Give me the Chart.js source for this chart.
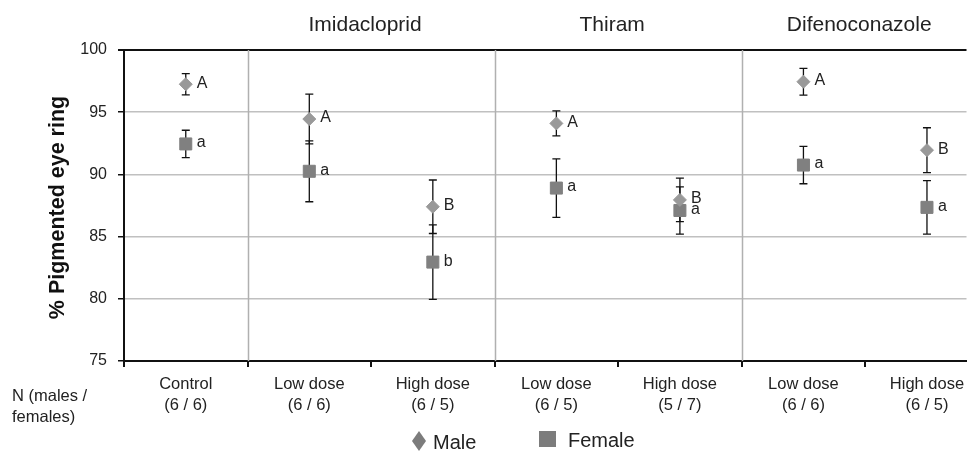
<!DOCTYPE html>
<html>
<head>
<meta charset="utf-8">
<script src="https://cdn.jsdelivr.net/npm/chart.js@4.4.0/dist/chart.umd.min.js"></script>
<style>
  body { margin: 0; background: #fff; }
  #chart { display: block; }
</style>
</head>
<body>
<canvas id="chart" width="976" height="452"></canvas>
<script>
// Categories and sample sizes
const categories = ['Control', 'Low dose', 'High dose', 'Low dose', 'High dose', 'Low dose', 'High dose'];
const sampleSizes = ['(6 / 6)', '(6 / 6)', '(6 / 5)', '(6 / 5)', '(5 / 7)', '(6 / 6)', '(6 / 5)'];

// Treatment groups (span in category units)
const groupNames = ['Imidacloprid', 'Thiram', 'Difenoconazole'];
const groupStart = [1, 3, 5];
const groupEnd = [3, 5, 7];

// Means, error bars and significance letters
const maleMean = [97.25, 94.45, 87.4, 94.1, 87.95, 97.45, 91.95];
const maleErr = [0.85, 2.0, 2.15, 1.0, 1.75, 1.07, 1.8];
const maleLetters = ['A', 'A', 'B', 'A', 'B', 'A', 'B'];

const femaleMean = [92.45, 90.25, 82.95, 88.9, 87.1, 90.75, 87.35];
const femaleErr = [1.1, 2.45, 3.0, 2.35, 1.9, 1.5, 2.15];
const femaleLetters = ['a', 'a', 'b', 'a', 'a', 'a', 'a'];

const yTicks = [75, 80, 85, 90, 95, 100];

const FONT = '"Liberation Sans", Arial, sans-serif';

function toPoints(means) {
  return means.map((v, i) => ({ x: i + 0.5, y: v }));
}

// draws error bars, letters, separators, labels and the legend
const decorPlugin = {
  id: 'decor',
  beforeDatasetsDraw(chart) {
    const ctx = chart.ctx;
    const xs = chart.scales.x, ys = chart.scales.y;
    const area = chart.chartArea;

    // group separators
    ctx.save();
    ctx.strokeStyle = '#b0b0b0';
    ctx.lineWidth = 1.5;
    groupStart.forEach(g => {
      const px = Math.round(xs.getPixelForValue(g)) + 0.5;
      ctx.beginPath();
      ctx.moveTo(px, area.top);
      ctx.lineTo(px, area.bottom);
      ctx.stroke();
    });

    // error bars
    ctx.strokeStyle = '#111';
    ctx.lineWidth = 1.3;
    [[maleMean, maleErr], [femaleMean, femaleErr]].forEach(([means, errs]) => {
      means.forEach((m, i) => {
        const px = xs.getPixelForValue(i + 0.5);
        const top = ys.getPixelForValue(m + errs[i]);
        const bot = ys.getPixelForValue(m - errs[i]);
        ctx.beginPath();
        ctx.moveTo(px, top); ctx.lineTo(px, bot);
        ctx.moveTo(px - 4, top); ctx.lineTo(px + 4, top);
        ctx.moveTo(px - 4, bot); ctx.lineTo(px + 4, bot);
        ctx.stroke();
      });
    });
    ctx.restore();
  },
  afterDraw(chart) {
    const ctx = chart.ctx;
    const xs = chart.scales.x, ys = chart.scales.y;
    const area = chart.chartArea;
    ctx.save();

    // letters next to the markers
    ctx.fillStyle = '#222';
    ctx.font = '16px ' + FONT;
    ctx.textAlign = 'left';
    ctx.textBaseline = 'middle';
    maleLetters.forEach((t, i) => {
      ctx.fillText(t, xs.getPixelForValue(i + 0.5) + 11, ys.getPixelForValue(maleMean[i]) - 1);
    });
    femaleLetters.forEach((t, i) => {
      ctx.fillText(t, xs.getPixelForValue(i + 0.5) + 11, ys.getPixelForValue(femaleMean[i]) - 1);
    });

    // x ticks at category boundaries
    ctx.strokeStyle = '#111';
    ctx.lineWidth = 2;
    for (let i = 0; i <= categories.length; i++) {
      const px = Math.round(xs.getPixelForValue(i));
      if (px > chart.width) continue;
      ctx.beginPath();
      ctx.moveTo(px, area.bottom);
      ctx.lineTo(px, area.bottom + 6);
      ctx.stroke();
    }

    // category labels
    ctx.textAlign = 'center';
    ctx.textBaseline = 'alphabetic';
    ctx.font = '16.5px ' + FONT;
    categories.forEach((c, i) => {
      const px = xs.getPixelForValue(i + 0.5);
      ctx.fillText(c, px, 389);
      ctx.fillText(sampleSizes[i], px, 410);
    });

    // N label
    ctx.textAlign = 'left';
    ctx.fillText('N (males /', 12, 401);
    ctx.fillText('females)', 12, 422);

    // group titles
    ctx.textAlign = 'center';
    ctx.font = '21px ' + FONT;
    groupNames.forEach((g, i) => {
      const px = (xs.getPixelForValue(groupStart[i]) + xs.getPixelForValue(groupEnd[i])) / 2 - 6;
      ctx.fillText(g, px, 31);
    });

    // y title
    ctx.save();
    ctx.translate(58, (area.top + area.bottom) / 2 + 2);
    ctx.rotate(-Math.PI / 2);
    ctx.font = 'bold 21.5px ' + FONT;
    ctx.fillStyle = '#111';
    ctx.textBaseline = 'middle';
    ctx.fillText('% Pigmented eye ring', 0, 0);
    ctx.restore();

    // legend
    ctx.fillStyle = '#7c7c7c';
    ctx.beginPath();
    ctx.moveTo(419, 431); ctx.lineTo(426, 441); ctx.lineTo(419, 451); ctx.lineTo(412, 441);
    ctx.closePath();
    ctx.fill();
    ctx.fillRect(539, 431, 17, 16);
    ctx.fillStyle = '#222';
    ctx.font = '20px ' + FONT;
    ctx.textAlign = 'left';
    ctx.fillText('Male', 433, 449);
    ctx.fillText('Female', 568, 447);

    ctx.restore();
  }
};

new Chart(document.getElementById('chart'), {
  type: 'scatter',
  data: {
    datasets: [
      {
        label: 'Male',
        data: toPoints(maleMean),
        pointStyle: 'rectRot',
        pointRadius: 6.5,
        backgroundColor: '#999999',
        borderColor: '#999999',
        borderWidth: 1
      },
      {
        label: 'Female',
        data: toPoints(femaleMean),
        pointStyle: 'rect',
        pointRadius: 8.5,
        backgroundColor: '#808080',
        borderColor: '#808080',
        borderWidth: 1
      }
    ]
  },
  options: {
    responsive: false,
    animation: false,
    devicePixelRatio: 1,
    layout: { padding: { top: 50, left: 0, right: 0, bottom: 0 } },
    plugins: { legend: { display: false }, tooltip: { enabled: false } },
    scales: {
      x: {
        type: 'linear',
        min: 0,
        max: 6.82,
        grid: { display: false },
        ticks: { display: false },
        border: { color: '#111', width: 2 },
        afterFit: s => { s.height = 91; }
      },
      y: {
        min: 75,
        max: 100,
        afterBuildTicks: s => { s.ticks = yTicks.map(v => ({ value: v })); },
        ticks: { font: { size: 16, family: FONT }, color: '#222', padding: 11 },
        grid: {
          color: c => (c.tick && c.tick.value === 100 ? '#111' : '#c0c0c0'),
          lineWidth: c => (c.tick && c.tick.value === 100 ? 2 : 1.5),
          tickColor: '#111',
          tickLength: 6
        },
        border: { color: '#111', width: 2 },
        afterFit: s => { s.width = 124; }
      }
    }
  },
  plugins: [decorPlugin]
});
</script>
</body>
</html>
